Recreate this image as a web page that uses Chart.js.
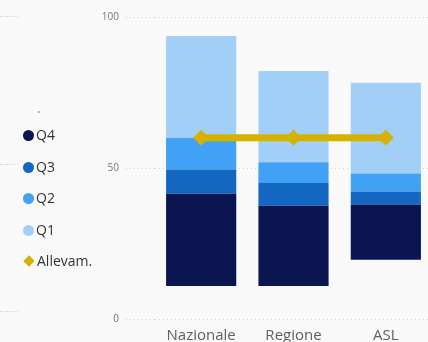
<!DOCTYPE html>
<html>
<head>
<meta charset="utf-8">
<script src="https://cdn.jsdelivr.net/npm/chart.js@4"></script>
<style>
  html, body { margin: 0; padding: 0; background: #f9f9f9; overflow: hidden; }
  #wrap { position: relative; width: 428px; height: 342px; overflow: hidden; }
  #box { position: absolute; left: 0; top: 0; width: 440px; height: 342px; }
  .legend { position: absolute; left: 23px; font-family: "Open Sans", sans-serif; font-size: 14px; color: #333; }
  .legend div { position: absolute; left: 0; height: 20px; line-height: 20px; white-space: nowrap; }
  .legend span.dot { display: inline-block; width: 11px; height: 11px; border-radius: 50%; vertical-align: -1px; margin-right: 2px; }
  .legend span.dia { display: inline-block; width: 8px; height: 8px; transform: rotate(45deg); margin: 0 4px 0 2px; vertical-align: 1px; }
  .stub { position: absolute; left: 0; width: 18px; border-top: 1px dotted #d4d4d4; }
</style>
</head>
<body>
<div id="wrap">
  <div id="box"><canvas id="myChart" width="440" height="342"></canvas></div>
  <div class="stub" style="top:16px"></div>
  <div class="stub" style="top:164px"></div>
  <div class="stub" style="top:311px"></div>
  <div class="legend" id="legend"></div>
</div>
<script>
// categories and values
const categories = ['Nazionale', 'Regione', 'ASL'];
const base = [10.9, 10.9, 19.6];   // the bars float, this part is not drawn
const q4 = [30.6, 26.6, 18.3];
const q3 = [8.0, 7.5, 4.3];
const q2 = [10.5, 6.9, 6.0];
const q1 = [33.7, 30.2, 30.0];
const allevam = [60, 60, 60];
const yTicks = [0, 50, 100];

const colors = {
    q4: '#0b1650',
    q3: '#1467c0',
    q2: '#40a1f5',
    q1: '#a2cff8',
    allevam: '#d6b200'
};

// html legend on the left
const legendItems = [
    { label: '.', top: 98, plain: true },
    { label: 'Q4', color: colors.q4, top: 125 },
    { label: 'Q3', color: colors.q3, top: 157 },
    { label: 'Q2', color: colors.q2, top: 188 },
    { label: 'Q1', color: colors.q1, top: 220 },
    { label: 'Allevam.', color: colors.allevam, top: 251, diamond: true }
];
const legendEl = document.getElementById('legend');
legendItems.forEach(item => {
    const row = document.createElement('div');
    row.style.top = item.top + 'px';
    if (item.plain) {
        row.style.left = '14px';
        row.style.color = '#888';
        row.textContent = item.label;
    } else {
        const mark = document.createElement('span');
        mark.className = item.diamond ? 'dia' : 'dot';
        mark.style.background = item.color;
        row.appendChild(mark);
        row.appendChild(document.createTextNode(item.label));
    }
    legendEl.appendChild(row);
});

function barSet(label, data, color) {
    return {
        type: 'bar',
        label: label,
        data: data,
        backgroundColor: color,
        borderWidth: 0,
        stack: 'bars',
        barPercentage: 0.76,
        categoryPercentage: 1,
        order: 2
    };
}

new Chart('myChart', {
    data: {
        labels: categories,
        datasets: [
            barSet('base', base, 'rgba(0,0,0,0)'),
            barSet('Q4', q4, colors.q4),
            barSet('Q3', q3, colors.q3),
            barSet('Q2', q2, colors.q2),
            barSet('Q1', q1, colors.q1),
            {
                type: 'line',
                label: 'Allevam.',
                data: allevam,
                stack: 'line',
                borderColor: colors.allevam,
                backgroundColor: colors.allevam,
                borderWidth: 7,
                pointStyle: 'rectRot',
                pointRadius: 8,
                pointBorderWidth: 0,
                fill: false,
                order: 1
            }
        ]
    },
    options: {
        responsive: false,
        animation: false,
        layout: { padding: { top: 17, right: 4, left: 0, bottom: 0 } },
        plugins: {
            legend: { display: false },
            tooltip: { enabled: false }
        },
        scales: {
            x: {
                stacked: true,
                offset: true,
                grid: { display: false, drawTicks: false },
                border: { display: false },
                ticks: {
                    padding: 8,
                    color: '#606060',
                    font: { family: 'Open Sans', size: 15 }
                },
                afterFit: scale => { scale.height = 23; }
            },
            y: {
                stacked: true,
                min: 0,
                max: 100,
                afterBuildTicks: scale => { scale.ticks = yTicks.map(v => ({ value: v })); },
                grid: {
                    color: '#d2d2d2',
                    tickColor: '#d2d2d2',
                    tickLength: 29,
                    tickBorderDash: [1, 3],
                    lineWidth: 1
                },
                border: { display: false, dash: [1, 3] },
                ticks: {
                    padding: 7,
                    color: '#777',
                    font: { family: 'Open Sans', size: 10 }
                },
                afterFit: scale => { scale.width = 155; }
            }
        }
    }
});
</script>
</body>
</html>
